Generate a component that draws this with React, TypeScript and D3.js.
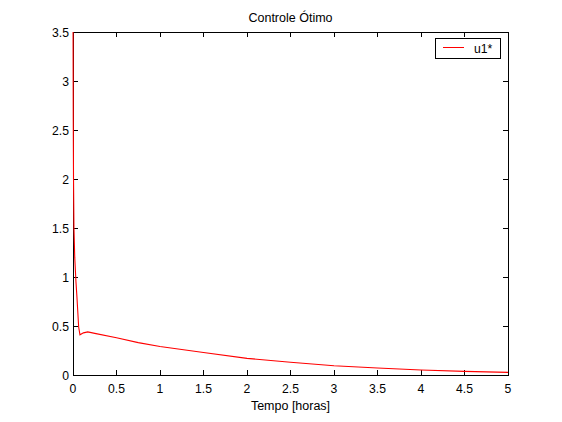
import React from 'react';
import * as d3 from 'd3';

// values (tempo in horas, u1*)
const tempo = [0, 0.003, 0.006, 0.011, 0.02, 0.034, 0.045, 0.054, 0.065, 0.08, 0.12, 0.17, 0.25, 0.5, 0.75, 1, 1.25, 1.5, 2, 2.5, 3, 3.5, 4, 4.5, 5];
const u1 = [3.8, 2.6, 2.0, 1.5, 1.2, 0.95, 0.8, 0.66, 0.49, 0.41, 0.43, 0.44, 0.425, 0.38, 0.33, 0.29, 0.26, 0.23, 0.17, 0.13, 0.095, 0.072, 0.051, 0.037, 0.027];
const xTicks = [0, 0.5, 1, 1.5, 2, 2.5, 3, 3.5, 4, 4.5, 5];
const yTicks = [0, 0.5, 1, 1.5, 2, 2.5, 3, 3.5];

const W = 562;
const H = 422;
const m = { left: 73, right: 54, top: 32, bottom: 47 };
const font = 'Liberation Sans, Arial, sans-serif';

const App: React.FC = () => {
  const x = d3.scaleLinear().domain([0, 5]).range([m.left, W - m.right]);
  const y = d3.scaleLinear().domain([0, 3.5]).range([H - m.bottom, m.top]);
  const pts = tempo.map((t, i) => [t, u1[i]] as [number, number]);
  const line = d3.line<[number, number]>().x(d => x(d[0])).y(d => y(d[1]));
  const x0 = m.left, x1 = W - m.right, y0 = H - m.bottom, y1 = m.top;
  const tk = 5;

  return (
    <svg width={W} height={H} style={{ position: 'absolute', left: 0, top: 0, background: '#fff' }}>
      <defs>
        <clipPath id="plot">
          <rect x={x0 - 1} y={y1} width={x1 - x0 + 1} height={y0 - y1} />
        </clipPath>
      </defs>
      <rect x={x0} y={y1} width={x1 - x0} height={y0 - y1} fill="#fff" stroke="#000" strokeWidth={1} shapeRendering="crispEdges" />
      {xTicks.map(t => (
        <g key={'x' + t}>
          <line x1={x(t)} x2={x(t)} y1={y0} y2={y0 - tk} stroke="#000" shapeRendering="crispEdges" />
          <line x1={x(t)} x2={x(t)} y1={y1} y2={y1 + tk} stroke="#000" shapeRendering="crispEdges" />
          <text x={x(t)} y={y0 + 18} textAnchor="middle" fontFamily={font} fontSize={12.2}>{t}</text>
        </g>
      ))}
      {yTicks.map(t => (
        <g key={'y' + t}>
          <line x1={x0} x2={x0 + tk} y1={y(t)} y2={y(t)} stroke="#000" shapeRendering="crispEdges" />
          <line x1={x1} x2={x1 - tk} y1={y(t)} y2={y(t)} stroke="#000" shapeRendering="crispEdges" />
          <text x={x0 - 4} y={y(t) + 4.5} textAnchor="end" fontFamily={font} fontSize={12.2}>{t}</text>
        </g>
      ))}
      <path d={line(pts) ?? ''} fill="none" stroke="#ff0000" strokeWidth={1.1} clipPath="url(#plot)" />
      <text x={(x0 + x1) / 2} y={22} textAnchor="middle" fontFamily={font} fontSize={12.5}>Controle Ótimo</text>
      <text x={(x0 + x1) / 2} y={410} textAnchor="middle" fontFamily={font} fontSize={12.5}>Tempo [horas]</text>
      <g>
        <rect x={435.5} y={38.5} width={65} height={20} fill="#fff" stroke="#000" />
        <rect x={443} y={47} width={21} height={1} fill="#ff0000" />
        <text x={474} y={52.5} fontFamily={font} fontSize={12.2}>u1*</text>
      </g>
    </svg>
  );
};

export default App;
